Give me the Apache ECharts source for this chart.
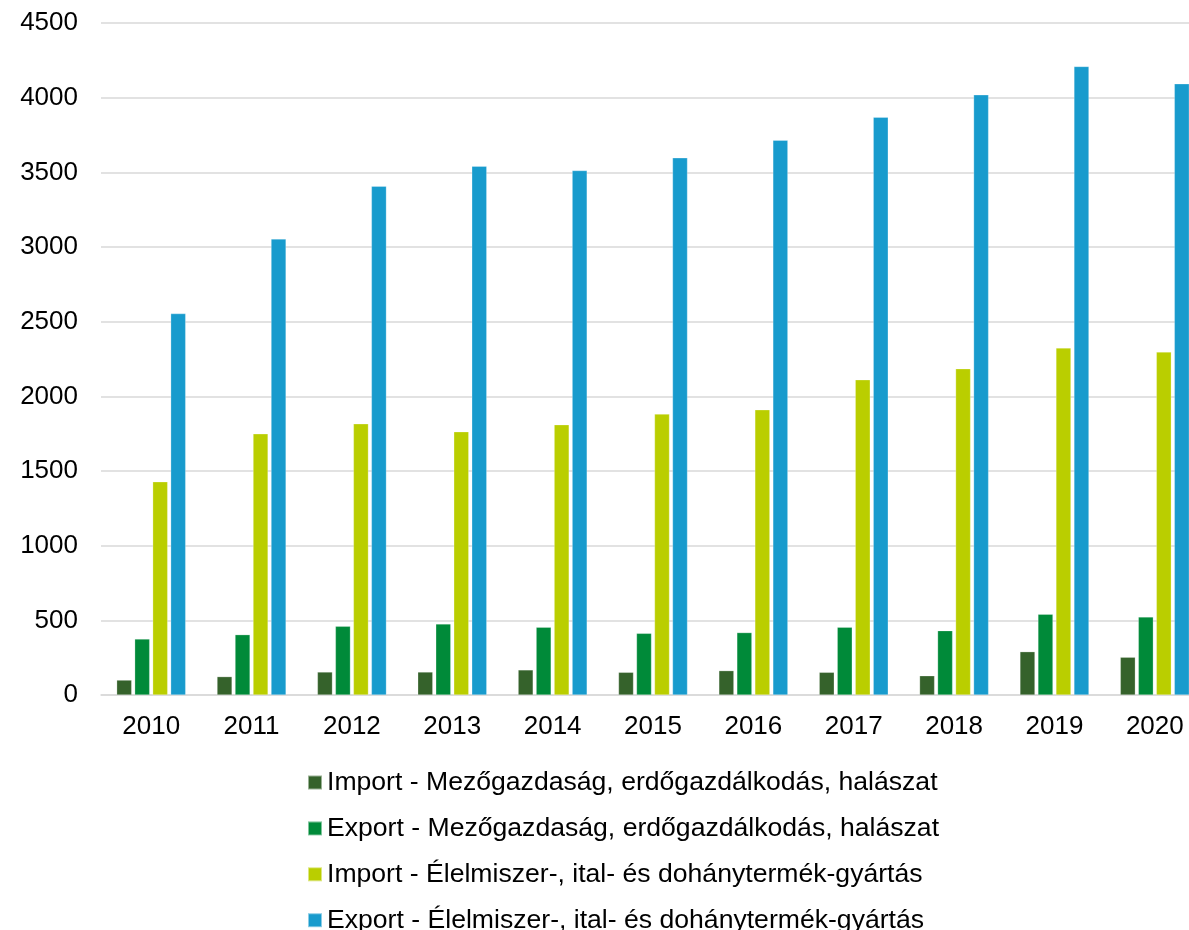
<!DOCTYPE html>
<html>
<head>
<meta charset="utf-8">
<script src="https://cdn.jsdelivr.net/npm/echarts@6/dist/echarts.min.js"></script>
<style>
	html, body { margin: 0; padding: 0; background: #fff; overflow: hidden; }
	#chart { width: 1205px; height: 930px; }
</style>
</head>
<body>
<div id="chart"></div>
<script>
var years = ["2010", "2011", "2012", "2013", "2014", "2015", "2016", "2017", "2018", "2019", "2020"];

var seriesNames = [
	"Import - Mezőgazdaság, erdőgazdálkodás, halászat",
	"Export - Mezőgazdaság, erdőgazdálkodás, halászat",
	"Import - Élelmiszer-, ital- és dohánytermék-gyártás",
	"Export - Élelmiszer-, ital- és dohánytermék-gyártás"
];

var importAgri = [100, 123, 154, 154, 168, 152, 163, 152, 129, 290, 253];
var exportAgri = [375, 404, 460, 476, 454, 413, 418, 454, 431, 541, 523];
var importFood = [1428, 1749, 1816, 1763, 1810, 1881, 1910, 2111, 2185, 2324, 2297];
var exportFood = [2554, 3054, 3407, 3541, 3512, 3597, 3715, 3869, 4019, 4209, 4093];

var colors = ["#35622b", "#008a39", "#bace00", "#189bcd"];

// a rajz a jobb szélen túllóg, mint az eredetin (div 1205px, ablak 1189px)
var chart = echarts.init(document.getElementById("chart"));

var dataSets = [importAgri, exportAgri, importFood, exportFood];
var series = [];
for (var i = 0; i < dataSets.length; i++) {
	series.push({
		name: seriesNames[i],
		type: "bar",
		barWidth: 15,
		barGap: "20%",
		itemStyle: {
			color: colors[i],
			borderColor: "rgba(255,255,255,0.5)",
			borderWidth: 0.5
		},
		data: dataSets[i]
	});
}

var option = {
	animation: false,
	textStyle: { fontFamily: "Liberation Sans, Arial, sans-serif" },
	grid: {
		left: 101,
		right: 0,
		top: 23,
		bottom: 235,
		containLabel: false
	},
	legend: {
		orient: "vertical",
		left: 302,
		top: 764,
		height: 200,
		itemWidth: 14,
		itemHeight: 14,
		itemGap: 18.9,
		icon: "rect",
		textStyle: {
			fontSize: 26.6,
			color: "#000",
			lineHeight: 26
		},
		data: seriesNames
	},
	xAxis: {
		type: "category",
		data: years,
		axisLine: { lineStyle: { color: "#d9d9d9", width: 1.5 } },
		axisTick: { show: false },
		axisLabel: { fontSize: 26, color: "#000", margin: 19 }
	},
	yAxis: {
		type: "value",
		min: 0,
		max: 4500,
		interval: 500,
		axisLine: { show: false },
		axisTick: { show: false },
		splitLine: { lineStyle: { color: "#d9d9d9", width: 1.5 } },
		axisLabel: {
			fontSize: 26,
			color: "#000",
			margin: 23,
			formatter: function (v) { return String(v); }
		}
	},
	series: series
};

chart.setOption(option);
</script>
</body>
</html>
